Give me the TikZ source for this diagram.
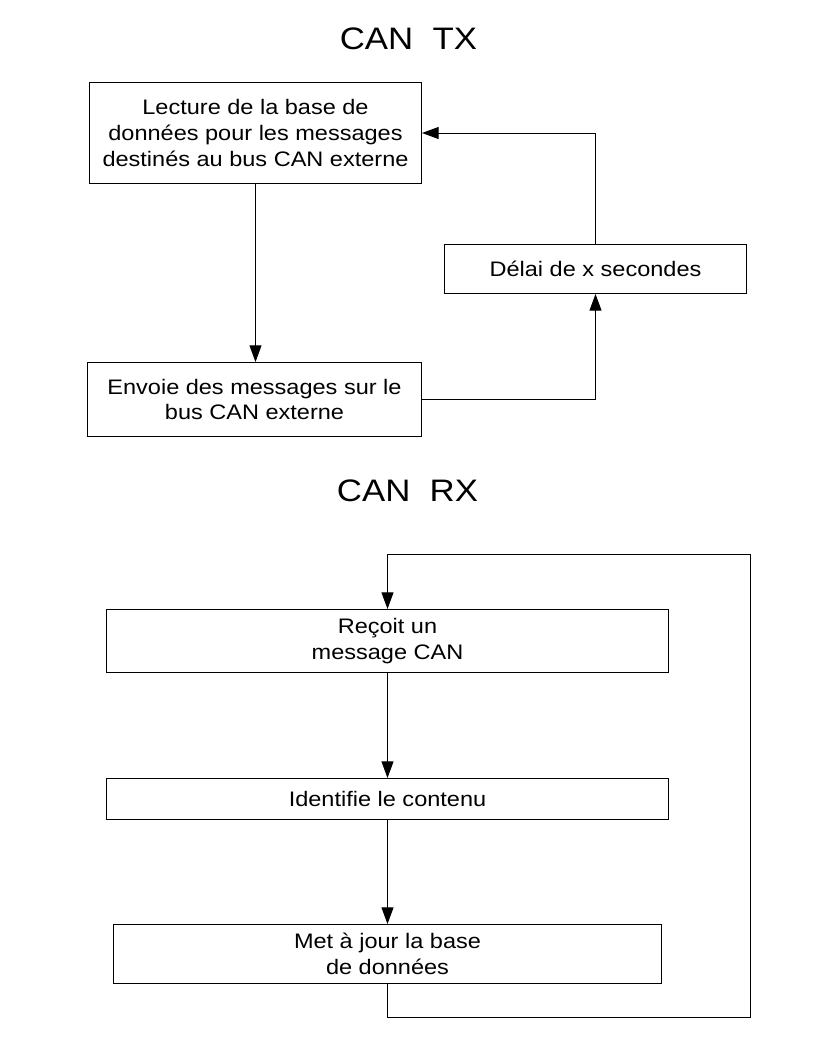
\documentclass[tikz,border=0pt]{standalone}
\usepackage{fontspec}
\setmainfont{Liberation Sans}[FakeStretch=1.12]
\usetikzlibrary{arrows.meta}
\begin{document}
\begin{tikzpicture}[x=0.75pt,y=-0.75pt,
  box/.style={draw=black,line width=0.75pt,inner sep=0pt,align=center,
    font=\fontsize{15.75pt}{19.2pt}\selectfont},
  ttl/.style={inner sep=0pt,font=\fontsize{23.3pt}{28pt}\selectfont},
  arr/.style={line width=0.75pt,-{Triangle[length=12.5pt,width=9pt]}}]
\useasboundingbox (0,0) rectangle (816,1056);
% titles
\node[ttl] (t1) at (408.5,38.8) {CAN\ \ TX};
\node[ttl] (t2) at (407.5,491) {CAN\ \ RX};
% CAN TX
\node[box,minimum width=332*0.75pt,minimum height=101*0.75pt] (A) at (255.5,133)
  {Lecture de la base de\\données pour les messages\\destinés au bus CAN externe};
\node[box,minimum width=334*0.75pt,minimum height=74*0.75pt] (B) at (254.5,399.5)
  {Envoie des messages sur le\\bus CAN externe};
\node[box,minimum width=302*0.75pt,minimum height=49*0.75pt] (C) at (595.5,269)
  {Délai de x secondes};
\draw[arr] (A.south) -- (A.south |- B.north);
\draw[arr] (B.east) -| (C.south);
\draw[arr] (C.north) |- (A.east);
% CAN RX
\node[box,minimum width=562*0.75pt,minimum height=63*0.75pt] (D) at (387.5,641)
  {Reçoit un\\message CAN};
\node[box,minimum width=562*0.75pt,minimum height=41*0.75pt] (E) at (387.5,799)
  {Identifie le contenu};
\node[box,minimum width=548*0.75pt,minimum height=59*0.75pt] (F) at (387.5,954)
  {Met à jour la base\\de données};
\draw[arr] (D.south) -- (E.north);
\draw[arr] (E.south) -- (F.north);
\coordinate (lb) at (387.5,1017.5);
\coordinate (rt) at (750.5,554.5);
\draw[arr] (F.south) -- (lb) -| (rt) -| (D.north);
\end{tikzpicture}
\end{document}
